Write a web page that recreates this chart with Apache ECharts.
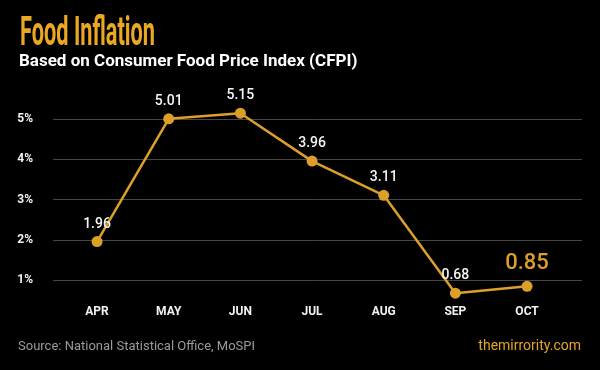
<!DOCTYPE html>
<html><head><meta charset="utf-8">
<script src="https://cdn.jsdelivr.net/npm/echarts@6/dist/echarts.min.js"></script>
<style>html,body{margin:0;padding:0;background:#000;}#c{width:600px;height:370px;}</style>
</head><body><div id="c"></div>
<script>
const months = ['APR','MAY','JUN','JUL','AUG','SEP','OCT'];
const inflation = [1.96, 5.01, 5.15, 3.96, 3.11, 0.68, 0.85];
const titleText = 'Food Inflation';
const subtitleText = 'Based on Consumer Food Price Index (CFPI)';
const sourceText = 'Source: National Statistical Office, MoSPI';
const brandText = 'themirrority.com';

const gold = '#dca02a';
const titleFont = 'bold 41px Roboto';
const cv = document.createElement('canvas').getContext('2d');
cv.font = titleFont;
const titleScale = 135 / cv.measureText(titleText).width;

const chart = echarts.init(document.getElementById('c'), null, {renderer:'canvas'});
const lastIdx = inflation.length - 1;
chart.setOption({
  backgroundColor: '#000',
  animation: false,
  graphic: [
    {type:'text', x:20, y:14, scaleX:titleScale, style:{text:titleText, fill:'#eba823', font:titleFont}},
    {type:'text', left:19, top:53, style:{text:subtitleText, fill:'#ffffff', font:'bold 17px Roboto'}},
    {type:'text', left:18, top:340, style:{text:sourceText, fill:'#9a9a9a', font:'13px Roboto'}},
    {type:'text', right:19, top:339, style:{text:brandText, fill:'#e6a526', font:'14px Roboto'}}
  ],
  grid: [
    {left:53, right:18, top:78.5, bottom:49.5},
    {left:61.2, right:37.1, top:99.1, bottom:69.6}
  ],
  xAxis: [
    {gridIndex:0, type:'value', show:false, min:0, max:1},
    {gridIndex:1, type:'category', data:months, axisLine:{show:false}, axisTick:{show:false},
     axisLabel:{margin:6, color:'#f2f2f2', fontWeight:'bold', fontSize:12, fontFamily:'Roboto'}}
  ],
  yAxis: [
    {gridIndex:0, type:'value', min:0, max:6, interval:1,
     axisLine:{show:false}, axisTick:{show:false},
     splitLine:{show:true, showMinLine:false, showMaxLine:false, lineStyle:{color:'#474747', width:1}},
     axisLabel:{formatter:'{value}%', showMinLabel:false, showMaxLabel:false, margin:20, color:'#f2f2f2', fontWeight:'bold', fontSize:12, fontFamily:'Roboto'}},
    {gridIndex:1, type:'value', min:0.5, max:5.5, show:false, splitLine:{show:false}}
  ],
  series: [{
    type:'line', xAxisIndex:1, yAxisIndex:1, clip:false,
    data: inflation.map((v,i)=> i===lastIdx ? {value:v, label:{fontSize:22, color:gold, distance:6}} : v),
    symbol:'circle', symbolSize:11,
    lineStyle:{color:gold, width:2.5}, itemStyle:{color:gold},
    label:{show:true, position:'top', distance:5, color:'#f5f5f5', fontSize:14, fontWeight:500, fontFamily:'Roboto',
      formatter: p => p.value.toFixed(2)}
  }]
});
</script></body></html>
